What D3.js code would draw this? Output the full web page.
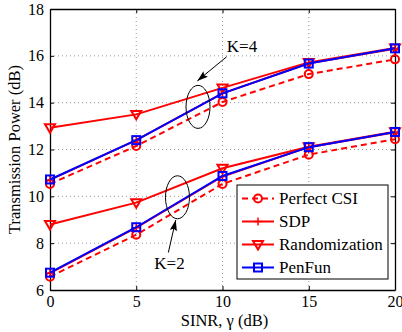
<!DOCTYPE html>
<html>
<head>
<meta charset="utf-8">
<script src="https://cdn.jsdelivr.net/npm/d3@7"></script>
<style>
  body { margin: 0; background: #fff; }
  svg text { font-family: "Liberation Serif", "Times New Roman", serif; }
</style>
</head>
<body>
<script>
// data
var sinr = [0, 5, 10, 15, 20];
var xTicks = [0, 5, 10, 15, 20];
var yTicks = [6, 8, 10, 12, 14, 16, 18];

// K = 4
var perfectK4 = [10.53, 12.15, 14.03, 15.22, 15.85];
var sdpK4 = [10.7, 12.4, 14.4, 15.68, 16.3];
var randK4 = [12.93, 13.5, 14.63, 15.72, 16.33];
var penfunK4 = [10.72, 12.4, 14.4, 15.67, 16.32];

// K = 2
var perfectK2 = [6.57, 8.36, 10.53, 11.78, 12.44];
var sdpK2 = [6.72, 8.66, 10.85, 12.1, 12.74];
var randK2 = [8.8, 9.73, 11.2, 12.12, 12.76];
var penfunK2 = [6.74, 8.68, 10.87, 12.1, 12.75];

var legendNames = ["Perfect CSI", "SDP", "Randomization", "PenFun"];

var width = 402, height = 332;
var margin = {top: 9, right: 7, bottom: 42, left: 50};

var svg = d3.select('body')
  .append('svg')
  .attr('width', width)
  .attr('height', height)
  .attr('font-family', '"Liberation Serif", serif');

var x = d3.scaleLinear().domain([0, 20]).range([margin.left, width - margin.right]);
var y = d3.scaleLinear().domain([6, 18]).range([height - margin.bottom, margin.top]);

var x0 = x.range()[0], x1 = x.range()[1];
var y0 = y.range()[0], y1 = y.range()[1];

// dotted grid
svg.append('g').selectAll('line').data(xTicks.slice(1, -1)).enter().append('line')
  .attr('x1', function(d) { return x(d); }).attr('x2', function(d) { return x(d); })
  .attr('y1', y0).attr('y2', y1)
  .attr('stroke', '#999').attr('stroke-width', 1).attr('stroke-dasharray', '1,3');
svg.append('g').selectAll('line').data(yTicks.slice(1, -1)).enter().append('line')
  .attr('x1', x0).attr('x2', x1)
  .attr('y1', function(d) { return y(d); }).attr('y2', function(d) { return y(d); })
  .attr('stroke', '#999').attr('stroke-width', 1).attr('stroke-dasharray', '1,3');

// axes (ticks inside, matlab style)
var fmt = d3.format('d');
svg.append('g').attr('transform', 'translate(0,' + y0 + ')')
  .call(d3.axisBottom(x).tickValues(xTicks).tickFormat(fmt).tickSizeInner(-4).tickSizeOuter(0).tickPadding(6));
svg.append('g').attr('transform', 'translate(0,' + y1 + ')')
  .call(d3.axisTop(x).tickValues(xTicks).tickFormat('').tickSizeInner(-4).tickSizeOuter(0));
svg.append('g').attr('transform', 'translate(' + x0 + ',0)')
  .call(d3.axisLeft(y).tickValues(yTicks).tickFormat(fmt).tickSizeInner(-4).tickSizeOuter(0).tickPadding(6));
svg.append('g').attr('transform', 'translate(' + x1 + ',0)')
  .call(d3.axisRight(y).tickValues(yTicks).tickFormat('').tickSizeInner(-4).tickSizeOuter(0));

svg.selectAll('.domain').attr('stroke', '#000').attr('stroke-width', 1.3);
svg.selectAll('.tick line').attr('stroke', '#000');
svg.selectAll('.tick text')
  .attr('font-family', '"Liberation Serif", serif')
  .attr('font-size', 16).attr('fill', '#000');

// axis labels
svg.append('text')
  .attr('x', (x0 + x1) / 2 + 2).attr('y', 326)
  .attr('text-anchor', 'middle')
  .attr('font-size', 16.5)
  .text('SINR, \u03B3 (dB)');
svg.append('text')
  .attr('transform', 'translate(20,' + ((y0 + y1) / 2) + ') rotate(-90)')
  .attr('text-anchor', 'middle')
  .attr('font-size', 16.5)
  .text('Transmission Power (dB)');

// series
var line = d3.line()
  .x(function(d) { return x(d[0]); })
  .y(function(d) { return y(d[1]); });

var series = [
  {vals: perfectK4, color: 'red', dash: '6,4', marker: 'circle'},
  {vals: perfectK2, color: 'red', dash: '6,4', marker: 'circle'},
  {vals: randK4, color: 'red', dash: null, marker: 'triangle'},
  {vals: randK2, color: 'red', dash: null, marker: 'triangle'},
  {vals: sdpK4, color: 'red', dash: null, marker: 'plus'},
  {vals: sdpK2, color: 'red', dash: null, marker: 'plus'},
  {vals: penfunK4, color: 'blue', dash: null, marker: 'square'},
  {vals: penfunK2, color: 'blue', dash: null, marker: 'square'}
];

var drawMarker = function(g, kind, color, cx, cy) {
  if (kind === 'circle') {
    g.append('circle').attr('cx', cx).attr('cy', cy).attr('r', 4)
      .attr('fill', 'none').attr('stroke', color).attr('stroke-width', 2);
  } else if (kind === 'square') {
    g.append('rect').attr('x', cx - 4).attr('y', cy - 4).attr('width', 8).attr('height', 8)
      .attr('fill', 'none').attr('stroke', color).attr('stroke-width', 2);
  } else if (kind === 'triangle') {
    g.append('path')
      .attr('d', 'M' + (cx - 5) + ',' + (cy - 3.5) + 'L' + (cx + 5) + ',' + (cy - 3.5) + 'L' + cx + ',' + (cy + 5) + 'Z')
      .attr('fill', 'none').attr('stroke', color).attr('stroke-width', 2);
  } else if (kind === 'plus') {
    g.append('path')
      .attr('d', 'M' + (cx - 4) + ',' + cy + 'H' + (cx + 4) + 'M' + cx + ',' + (cy - 4) + 'V' + (cy + 4))
      .attr('stroke', color).attr('stroke-width', 1.5);
  }
};

series.forEach(function(s) {
  var pts = sinr.map(function(v, i) { return [v, s.vals[i]]; });
  var g = svg.append('g');
  g.append('path').datum(pts)
    .attr('d', line)
    .attr('fill', 'none')
    .attr('stroke', s.color)
    .attr('stroke-width', 2)
    .attr('stroke-dasharray', s.dash);
  pts.forEach(function(p) { drawMarker(g, s.marker, s.color, x(p[0]), y(p[1])); });
});

// ellipses and annotations
var ellipses = [{cx: 8.58, cy: 13.82, label: 'K=4'}, {cx: 7.39, cy: 9.96, label: 'K=2'}];
svg.selectAll('ellipse').data(ellipses).enter().append('ellipse')
  .attr('cx', function(d) { return x(d.cx); })
  .attr('cy', function(d) { return y(d.cy); })
  .attr('rx', 12).attr('ry', 21.5)
  .attr('fill', 'none').attr('stroke', '#000').attr('stroke-width', 1);

svg.append('defs').append('marker')
  .attr('id', 'arr').attr('viewBox', '0 0 12 10')
  .attr('refX', 12).attr('refY', 5)
  .attr('markerWidth', 12).attr('markerHeight', 9)
  .attr('markerUnits', 'userSpaceOnUse')
  .attr('orient', 'auto')
  .append('path').attr('d', 'M0,1L12,5L0,9L2,5Z').attr('fill', '#000');

// arrows: from label to ellipse (data coords)
var arrows = [
  {from: [10.24, 15.96], to: [8.54, 14.93]},
  {from: [6.86, 7.6], to: [7.29, 8.99]}
];
svg.selectAll('.arrow').data(arrows).enter().append('line')
  .attr('class', 'arrow')
  .attr('x1', function(d) { return x(d.from[0]); })
  .attr('y1', function(d) { return y(d.from[1]); })
  .attr('x2', function(d) { return x(d.to[0]); })
  .attr('y2', function(d) { return y(d.to[1]); })
  .attr('stroke', '#000').attr('stroke-width', 1)
  .attr('marker-end', 'url(#arr)');

var labels = [{x: 10.25, y: 16.42, text: 'K=4', anchor: 'start'}, {x: 6.93, y: 7.13, text: 'K=2', anchor: 'middle'}];
svg.selectAll('.ann').data(labels).enter().append('text')
  .attr('class', 'ann')
  .attr('x', function(d) { return x(d.x); })
  .attr('y', function(d) { return y(d.y); })
  .attr('dy', '0.35em')
  .attr('text-anchor', function(d) { return d.anchor; })
  .attr('font-size', 17)
  .text(function(d) { return d.text; });

// legend
var legend = svg.append('g').attr('transform', 'translate(237,185)');
legend.append('rect').attr('width', 151).attr('height', 94)
  .attr('fill', '#fff').attr('stroke', '#000').attr('stroke-width', 1);
var legendStyles = [
  {color: 'red', dash: '6,4', marker: 'circle'},
  {color: 'red', dash: null, marker: 'plus'},
  {color: 'red', dash: null, marker: 'triangle'},
  {color: 'blue', dash: null, marker: 'square'}
];
legendNames.forEach(function(name, i) {
  var ly = 13.5 + i * 23;
  var st = legendStyles[i];
  legend.append('line').attr('x1', 5).attr('x2', 37).attr('y1', ly).attr('y2', ly)
    .attr('stroke', st.color).attr('stroke-width', 2).attr('stroke-dasharray', st.dash);
  drawMarker(legend, st.marker, st.color, 21, ly);
  legend.append('text').attr('x', 42).attr('y', ly).attr('dy', '0.35em')
    .attr('font-size', 17).text(name);
});
</script>
</body>
</html>
